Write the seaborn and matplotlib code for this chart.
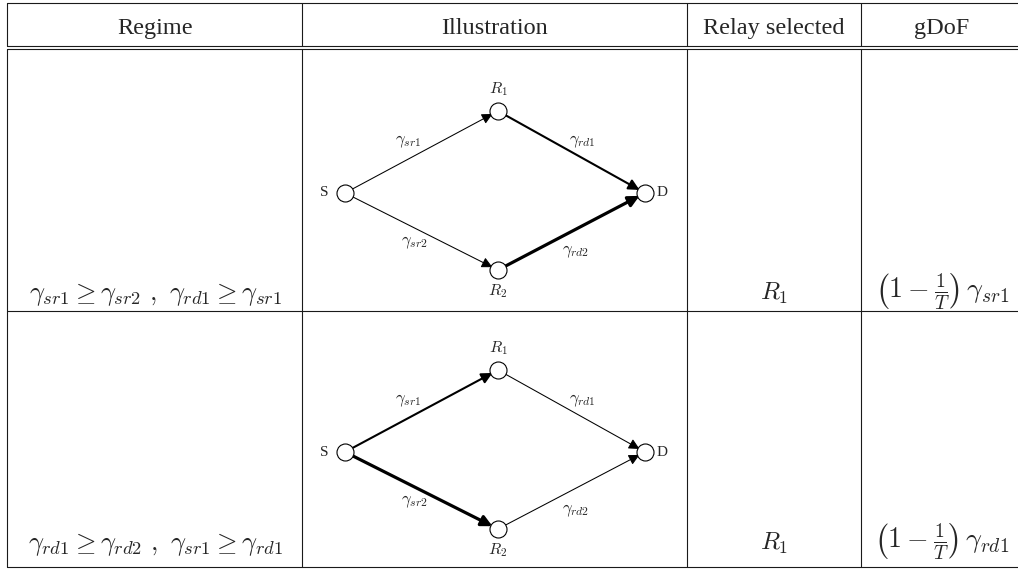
"""
Relay selection table: regimes, illustrations, selected relay and gDoF.
"""
import numpy as np
import pandas as pd
import matplotlib
matplotlib.use("Agg")
import matplotlib.pyplot as plt
import seaborn as sns
from matplotlib.patches import FancyArrowPatch

sns.set_theme(style="white")
plt.rcParams['font.family'] = ['Liberation Serif', 'DejaVu Serif']
plt.rcParams['mathtext.fontset'] = 'cm'

# table content
headers = ['Regime', 'Illustration', 'Relay selected', 'gDoF']
regimes = [r'$\gamma_{sr1} \geq \gamma_{sr2}\ ,\ \gamma_{rd1} \geq \gamma_{sr1}$',
           r'$\gamma_{rd1} \geq \gamma_{rd2}\ ,\ \gamma_{sr1} \geq \gamma_{rd1}$']
relay_selected = [r'$R_1$', r'$R_1$']
gdof = [r'$\left(1-\frac{1}{T}\right)\,\gamma_{sr1}$',
        r'$\left(1-\frac{1}{T}\right)\,\gamma_{rd1}$']

# graph: edges and their weight level (0 thin, 1 bold, 2 bolder) per row
edges = [('S', 'R1'), ('S', 'R2'), ('R1', 'D'), ('R2', 'D')]
edge_labels = [r'$\gamma_{sr1}$', r'$\gamma_{sr2}$', r'$\gamma_{rd1}$', r'$\gamma_{rd2}$']
edge_weight = [[0, 0, 1, 2],
               [1, 2, 0, 0]]

# layout (pixels)
col_x = [7, 302, 687, 861]
col_cx = [155, 494.5, 774, 942]
x_right = 1018
y_top, y_head1, y_head2 = 3, 46, 49
row_bottom = [311, 567]
row_base = [300, 550]
row_cy = [193, 452]
node_off = {'S': (345, 0), 'R1': (498, -82), 'R2': (498, 77), 'D': (645, 0)}
label_off = [(408, -51), (414, 50), (582, -51), (576, 59)]
widths = [0.75, 1.5, 2.3]

fig = plt.figure(figsize=(10.18, 5.70), dpi=100)
ax = fig.add_axes([0, 0, 1, 1])
ax.set_xlim(0, 1018)
ax.set_ylim(570, 0)
ax.axis('off')

lc = '#1a1a1a'
# horizontal rules (table is cut at the right edge)
for y in [y_top, y_head1, y_head2] + row_bottom:
    ax.plot([col_x[0], x_right], [y, y], color=lc, lw=0.8)
# vertical rules
for x in col_x:
    ax.plot([x, x], [y_top, y_head1], color=lc, lw=0.8)
    ax.plot([x, x], [y_head2, row_bottom[-1]], color=lc, lw=0.8)

# headers
for cx, h in zip(col_cx, headers):
    ax.text(cx, 34, h, ha='center', va='baseline', fontsize=17.5)

# rows
for r in range(2):
    base = row_base[r]
    ax.text(col_cx[0], base, regimes[r], ha='center', va='baseline', fontsize=19)
    ax.text(col_cx[2], base, relay_selected[r], ha='center', va='baseline', fontsize=18)
    ax.text(col_cx[3], base - 2, gdof[r], ha='center', va='baseline', fontsize=20)

    cy = row_cy[r]
    pos = {k: (v[0], cy + v[1]) for k, v in node_off.items()}
    for (a, b), w in zip(edges, edge_weight[r]):
        arr = FancyArrowPatch(pos[a], pos[b], arrowstyle='-|>', mutation_scale=16,
                              shrinkA=4.5, shrinkB=4.5, lw=widths[w], color='black',
                              zorder=2)
        ax.add_patch(arr)
    for lab, (lx, dy) in zip(edge_labels, label_off):
        ax.text(lx, cy + dy, lab, ha='center', va='center', fontsize=12)

    nodes = pd.DataFrame({'x': [p[0] for p in pos.values()],
                          'y': [p[1] for p in pos.values()]})
    sns.scatterplot(data=nodes, x='x', y='y', ax=ax, s=150, color='white',
                    edgecolor='black', linewidth=0.8, zorder=3, legend=False)

    ax.text(pos['S'][0] - 21, cy, 'S', ha='center', va='center', fontsize=11)
    ax.text(pos['D'][0] + 17, cy, 'D', ha='center', va='center', fontsize=11)
    ax.text(pos['R1'][0], pos['R1'][1] - 18, r'$R_1$', ha='center', va='baseline', fontsize=11.5)
    ax.text(pos['R2'][0], pos['R2'][1] + 25, r'$R_2$', ha='center', va='baseline', fontsize=11.5)

ax.set_xlim(0, 1018)
ax.set_ylim(570, 0)
ax.set_xlabel('')
ax.set_ylabel('')
fig.savefig('out.png', dpi=100)
